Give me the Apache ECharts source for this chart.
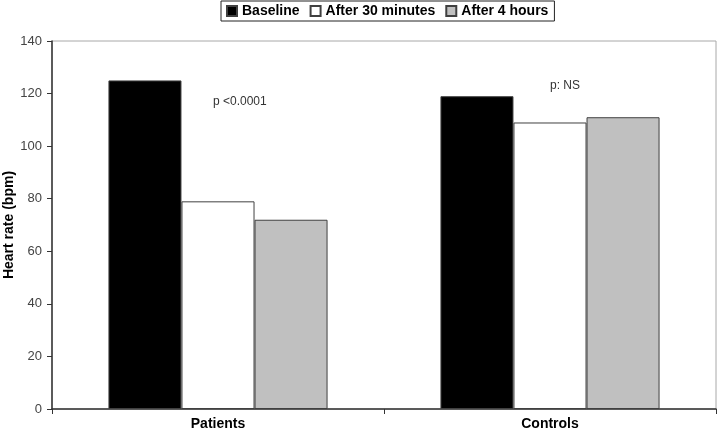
<!DOCTYPE html>
<html><head><meta charset="utf-8">
<script src="https://cdn.jsdelivr.net/npm/echarts@6/dist/echarts.min.js"></script>
<style>html,body{margin:0;padding:0;background:#fff}#c{width:720px;height:435px}</style>
</head><body><div id="c"></div>
<script>
const categories = ['Patients', 'Controls'];
const baseline = [125, 119];
const after30 = [79, 109];
const after4h = [72, 111];
const yTicks = [0, 20, 40, 60, 80, 100, 120, 140];

const chart = echarts.init(document.getElementById('c'), null, {renderer: 'canvas'});
const font = 'Arial, "Liberation Sans", sans-serif';
chart.setOption({
  animation: false,
  backgroundColor: '#fff',
  legend: {
    top: 1, left: 221,
    itemWidth: 10, itemHeight: 10, itemGap: 10,
    borderColor: '#222', borderWidth: 1, padding: [3, 6, 3, 5],
    textStyle: {fontFamily: font, fontWeight: 'bold', fontSize: 14, color: '#000'},
    data: [
      {name: 'Baseline', icon: 'rect'},
      {name: 'After 30 minutes', icon: 'rect'},
      {name: 'After 4 hours', icon: 'rect'}
    ]
  },
  grid: {left: 52, right: 4, top: 41, bottom: 26, show: true, borderColor: '#a8a8a8', borderWidth: 1,
         containLabel: false, outerBoundsMode: 'none'},
  xAxis: {
    type: 'category', data: categories,
    axisLine: {lineStyle: {color: '#333', width: 1.5}},
    axisTick: {show: true, length: 5, lineStyle: {color: '#333'}},
    axisLabel: {fontFamily: font, fontWeight: 'bold', fontSize: 14, color: '#000', margin: 8}
  },
  yAxis: {
    type: 'value', min: yTicks[0], max: yTicks[yTicks.length-1], interval: 20,
    name: 'Heart rate (bpm)', nameLocation: 'middle', nameGap: 36, nameMoveOverlap: false,
    nameTextStyle: {fontFamily: font, fontWeight: 'bold', fontSize: 14, color: '#000'},
    axisLine: {show: true, lineStyle: {color: '#333', width: 1.5}},
    axisTick: {show: true, length: 5, lineStyle: {color: '#333'}},
    splitLine: {show: false},
    axisLabel: {fontFamily: font, fontSize: 13, color: '#444', margin: 10}
  },
  series: [
    {name: 'Baseline', type: 'bar', data: baseline, barWidth: '22%', barGap: '0%',
     itemStyle: {color: '#000', borderColor: '#404040', borderWidth: 1}},
    {name: 'After 30 minutes', type: 'bar', data: after30, barWidth: '22%', barGap: '0%',
     itemStyle: {color: '#fff', borderColor: '#404040', borderWidth: 1}},
    {name: 'After 4 hours', type: 'bar', data: after4h, barWidth: '22%', barGap: '0%',
     itemStyle: {color: '#c0c0c0', borderColor: '#404040', borderWidth: 1}}
  ],
  graphic: [
    {type: 'text', left: 213, top: 96, style: {text: 'p <0.0001', fontFamily: font, fontSize: 12, fill: '#333'}},
    {type: 'text', left: 550, top: 80, style: {text: 'p: NS', fontFamily: font, fontSize: 12, fill: '#333'}}
  ]
});
</script></body></html>
